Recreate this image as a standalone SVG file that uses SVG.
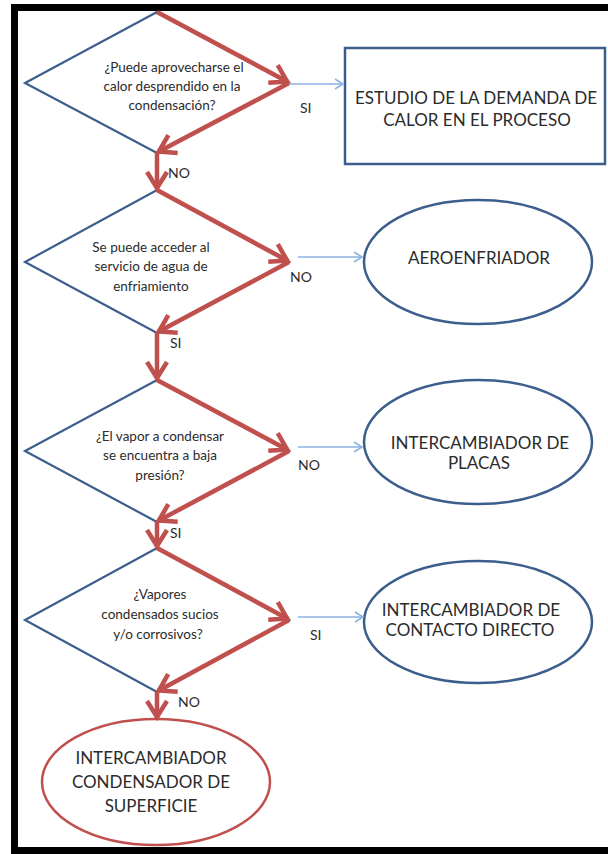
<svg xmlns="http://www.w3.org/2000/svg" width="608" height="854" viewBox="0 0 608 854">
<defs>
<style>
.bg{fill:#ffffff}
.frame{fill:none;stroke:#000;stroke-width:7}
.dia{fill:#fff;stroke:#3b5e8c;stroke-width:2.2}
.node{fill:#fff;stroke:#3b5e8c;stroke-width:2.5}
.term{fill:#fff;stroke:#c0504d;stroke-width:2.5}
.q{font-family:Lato,"Liberation Sans",sans-serif;font-size:13.5px;fill:#2b2b2b;text-anchor:middle}
.t{font-family:Lato,"Liberation Sans",sans-serif;font-size:17px;fill:#2b2b2b;text-anchor:middle}
.lb{font-family:Lato,"Liberation Sans",sans-serif;font-size:14px;fill:#2b2b2b}
.red{fill:none;stroke:#c0504d;stroke-width:4.5;marker-end:url(#ra)}
.blue{fill:none;stroke:#8db3e2;stroke-width:1.6;marker-end:url(#ba)}
</style>
<marker id="ra" viewBox="-24 -14 28 28" refX="0" refY="0" markerWidth="28" markerHeight="28" markerUnits="userSpaceOnUse" orient="auto">
<path d="M-17 -10 L-1 0 L-17 10" fill="none" stroke="#c0504d" stroke-width="4.5" stroke-linejoin="miter"/>
</marker>
<marker id="ba" viewBox="-12 -8 14 16" refX="0" refY="0" markerWidth="14" markerHeight="16" markerUnits="userSpaceOnUse" orient="auto">
<path d="M-8 -5 L0 0 L-8 5" fill="none" stroke="#8db3e2" stroke-width="1.6"/>
</marker>
</defs>
<rect class="bg" x="0" y="0" width="608" height="854"/>
<rect class="frame" x="14.5" y="7.5" width="610" height="843"/>

<g id="d1">
<polygon class="dia" points="157,12 289,83 157,153 25,83"/>
<text class="q" x="174" y="72">¿Puede aprovecharse el</text>
<text class="q" x="172" y="91">calor desprendido en la</text>
<text class="q" x="172" y="110">condensación?</text>
</g>
<g id="n1">
<rect class="node" x="345" y="48" width="260" height="116"/>
<text class="t" x="476" y="104">ESTUDIO DE LA DEMANDA DE</text>
<text class="t" x="477" y="126">CALOR EN EL PROCESO</text>
</g>

<g id="d2">
<polygon class="dia" points="157,190 289,262 157,333 25,262"/>
<text class="q" x="151" y="252">Se puede acceder al</text>
<text class="q" x="151" y="271">servicio de agua de</text>
<text class="q" x="151" y="291">enfriamiento</text>
</g>
<g id="n2">
<ellipse class="node" cx="478" cy="262" rx="114" ry="62"/>
<text class="t" x="479" y="264">AEROENFRIADOR</text>
</g>

<g id="d3">
<polygon class="dia" points="157,380 289,451 157,522 25,451"/>
<text class="q" x="160" y="441">¿El vapor a condensar</text>
<text class="q" x="160" y="460">se encuentra a baja</text>
<text class="q" x="160" y="480">presión?</text>
</g>
<g id="n3">
<ellipse class="node" cx="478" cy="442" rx="114" ry="62"/>
<text class="t" x="480" y="449">INTERCAMBIADOR DE</text>
<text class="t" x="479" y="469">PLACAS</text>
</g>

<g id="d4">
<polygon class="dia" points="157,548 289,620 157,692 25,620"/>
<text class="q" x="160" y="599">¿Vapores</text>
<text class="q" x="160" y="619">condensados sucios</text>
<text class="q" x="158" y="639">y/o corrosivos?</text>
</g>
<g id="n4">
<ellipse class="node" cx="478" cy="622" rx="114" ry="61"/>
<text class="t" x="471" y="616">INTERCAMBIADOR DE</text>
<text class="t" x="470" y="636">CONTACTO DIRECTO</text>
</g>

<g id="n5">
<ellipse class="term" cx="156" cy="782" rx="114" ry="63"/>
<text class="t" x="151" y="764">INTERCAMBIADOR</text>
<text class="t" x="151" y="788">CONDENSADOR DE</text>
<text class="t" x="151" y="812">SUPERFICIE</text>
</g>

<g id="connectors">
<path class="red" d="M157 12 L288 82"/>
<path class="red" d="M289 83 L158 152"/>
<path class="red" d="M157 153 L157 189"/>
<path class="blue" d="M289 84 L343 84"/>

<path class="red" d="M157 190 L288 261"/>
<path class="red" d="M289 262 L158 332"/>
<path class="red" d="M157 333 L157 379"/>
<path class="blue" d="M298 257 L362 257"/>

<path class="red" d="M157 380 L288 450"/>
<path class="red" d="M289 451 L158 521"/>
<path class="red" d="M157 522 L157 547"/>
<path class="blue" d="M298 447 L362 447"/>

<path class="red" d="M157 548 L288 619"/>
<path class="red" d="M289 620 L158 691"/>
<path class="red" d="M157 692 L157 718"/>
<path class="blue" d="M298 617 L363 617"/>

<text class="lb" x="300" y="113">SI</text>
<text class="lb" x="168" y="178">NO</text>
<text class="lb" x="290" y="282">NO</text>
<text class="lb" x="170" y="348">SI</text>
<text class="lb" x="298" y="470">NO</text>
<text class="lb" x="170" y="538">SI</text>
<text class="lb" x="310" y="640">SI</text>
<text class="lb" x="178" y="707">NO</text>
</g>
</svg>
